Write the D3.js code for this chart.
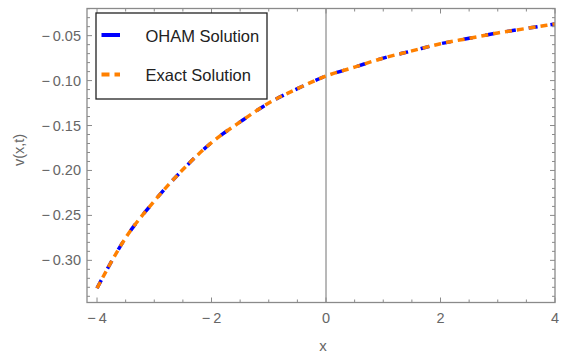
<!DOCTYPE html>
<html>
<head>
<meta charset="utf-8">
<script src="https://cdn.jsdelivr.net/npm/d3@7"></script>
<style>
  body { margin: 0; background: #fff; }
  text { font-family: "Liberation Sans", Arial, sans-serif; }
</style>
</head>
<body>
<div id="chart"></div>
<script>
// values
var xValues = [-4, -3.5, -3, -2.5, -2, -1.5, -1, -0.5, 0, 0.5, 1, 1.5, 2, 2.5, 3, 3.5, 4];
var ohamValues = [-0.331, -0.275, -0.234, -0.199, -0.169, -0.146, -0.125, -0.109, -0.095, -0.085, -0.075, -0.067, -0.059, -0.053, -0.047, -0.042, -0.037];
var exactValues = [-0.331, -0.275, -0.234, -0.199, -0.169, -0.146, -0.125, -0.109, -0.095, -0.085, -0.075, -0.067, -0.059, -0.053, -0.047, -0.042, -0.037];
var xTicks = [-4, -2, 0, 2, 4];
var yTicks = [-0.30, -0.25, -0.20, -0.15, -0.10, -0.05];
var seriesNames = ["OHAM Solution", "Exact Solution"];

var width = 561, height = 353;
var frame = {left: 87, right: 555, top: 8.5, bottom: 302.5};

var svg = d3.select("#chart").append("svg")
    .attr("width", width)
    .attr("height", height);

var x = d3.scaleLinear().domain([-4.175, 4]).range([frame.left, frame.right]);
var y = d3.scaleLinear().domain([-0.3469, -0.0198]).range([frame.bottom, frame.top]);

var frameColor = "#8a8a8a";
var labelColor = "#666";

// vertical axis line at x = 0
svg.append("line")
    .attr("x1", x(0)).attr("x2", x(0))
    .attr("y1", frame.top).attr("y2", frame.bottom)
    .attr("stroke", "#8a8a8a").attr("stroke-width", 1.2);

// curves
var line = d3.line()
    .x(function(d){ return x(d[0]); })
    .y(function(d){ return y(d[1]); })
    .curve(d3.curveMonotoneX);

var clip = svg.append("clipPath").attr("id", "clip").append("rect")
    .attr("x", frame.left).attr("y", frame.top)
    .attr("width", frame.right - frame.left).attr("height", frame.bottom - frame.top);

var plot = svg.append("g").attr("clip-path", "url(#clip)");

plot.append("path")
    .datum(xValues.map(function(v, i){ return [v, ohamValues[i]]; }))
    .attr("d", line)
    .attr("fill", "none")
    .attr("stroke", "#0000ff")
    .attr("stroke-width", 3.5)
    .attr("stroke-dasharray", "9,13");

plot.append("path")
    .datum(xValues.map(function(v, i){ return [v, exactValues[i]]; }))
    .attr("d", line)
    .attr("fill", "none")
    .attr("stroke", "#ff8000")
    .attr("stroke-width", 3.5)
    .attr("stroke-dasharray", "7,5");

// frame with inward ticks
var axisG = svg.append("g");
axisG.append("rect")
    .attr("x", frame.left).attr("y", frame.top)
    .attr("width", frame.right - frame.left).attr("height", frame.bottom - frame.top)
    .attr("fill", "none").attr("stroke", frameColor).attr("stroke-width", 1.3);

var xMinor = d3.range(-4, 4.01, 0.5);
var yMinor = d3.range(-0.34, -0.019, 0.01);

function isMajor(v, list) {
    return list.some(function(t){ return Math.abs(t - v) < 1e-6; });
}

xMinor.forEach(function(v){
    var len = isMajor(v, xTicks) ? 5 : 3;
    axisG.append("line").attr("x1", x(v)).attr("x2", x(v))
        .attr("y1", frame.bottom).attr("y2", frame.bottom - len)
        .attr("stroke", frameColor).attr("stroke-width", 1);
    axisG.append("line").attr("x1", x(v)).attr("x2", x(v))
        .attr("y1", frame.top).attr("y2", frame.top + len)
        .attr("stroke", frameColor).attr("stroke-width", 1);
});

yMinor.forEach(function(v){
    var len = isMajor(v, yTicks) ? 5 : 3;
    axisG.append("line").attr("x1", frame.left).attr("x2", frame.left + len)
        .attr("y1", y(v)).attr("y2", y(v))
        .attr("stroke", frameColor).attr("stroke-width", 1);
    axisG.append("line").attr("x1", frame.right).attr("x2", frame.right - len)
        .attr("y1", y(v)).attr("y2", y(v))
        .attr("stroke", frameColor).attr("stroke-width", 1);
});

function fmt(v, digits) {
    var s = Math.abs(v).toFixed(digits);
    return v < 0 ? "\u2212\u2009" + s : s;
}

axisG.selectAll(".xlab").data(xTicks).enter().append("text")
    .attr("x", function(d){ return x(d); })
    .attr("y", 323)
    .attr("text-anchor", "middle")
    .attr("font-size", 14.5)
    .attr("fill", labelColor)
    .text(function(d){ return fmt(d, 0); });

axisG.selectAll(".ylab").data(yTicks).enter().append("text")
    .attr("x", 81)
    .attr("y", function(d){ return y(d) + 5; })
    .attr("text-anchor", "end")
    .attr("font-size", 14.5)
    .attr("fill", labelColor)
    .text(function(d){ return fmt(d, 2); });

// axis titles
svg.append("text")
    .attr("x", 323).attr("y", 351)
    .attr("text-anchor", "middle")
    .attr("font-size", 15)
    .attr("fill", labelColor)
    .text("x");

svg.append("text")
    .attr("transform", "translate(24,150) rotate(-90)")
    .attr("text-anchor", "middle")
    .attr("font-size", 14.5)
    .attr("fill", labelColor)
    .text("v(x,t)");

// legend
var legend = svg.append("g");
legend.append("rect")
    .attr("x", 96).attr("y", 13)
    .attr("width", 171).attr("height", 86)
    .attr("fill", "#fff").attr("stroke", "#222").attr("stroke-width", 1.3);

var legendColors = ["#0000ff", "#ff8000"];
var legendDash = [null, "8,5"];
seriesNames.forEach(function(name, i){
    var ly = 35 + i * 39.5;
    legend.append("line")
        .attr("x1", 101.5).attr("x2", 120)
        .attr("y1", ly).attr("y2", ly)
        .attr("stroke", legendColors[i])
        .attr("stroke-width", 4)
        .attr("stroke-dasharray", legendDash[i]);
    legend.append("text")
        .attr("x", 145.5).attr("y", ly + 6.5)
        .attr("font-size", 16.5)
        .attr("fill", "#222")
        .text(name);
});
</script>
</body>
</html>
